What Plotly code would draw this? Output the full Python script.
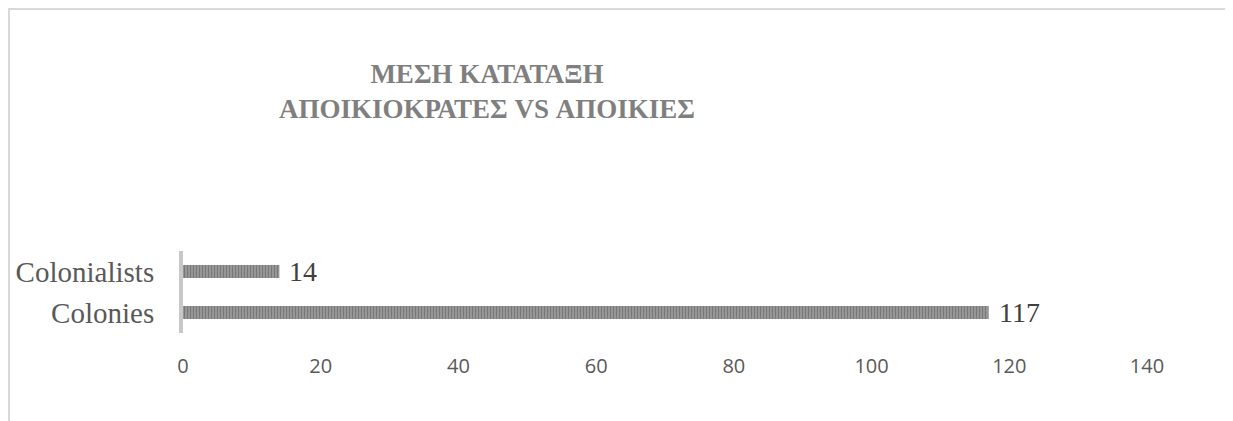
import plotly.graph_objects as go

categories = ["Colonies", "Colonialists"]
values = [117, 14]
tick_vals = [0, 20, 40, 60, 80, 100, 120, 140]
title_lines = ["ΜΕΣΗ ΚΑΤΑΤΑΞΗ", "ΑΠΟΙΚΙΟΚΡΑΤΕΣ VS ΑΠΟΙΚΙΕΣ"]

# page is offset by the 8px body margin
W, H = 1225, 413
L, R, T, B = 175, 86, 243, 88
PW, PH = W - L - R, H - T - B

fig = go.Figure(go.Bar(
    y=categories, x=values, orientation="h",
    marker=dict(color="#8a8a8a", line=dict(width=0),
                pattern=dict(shape="|", size=3, solidity=0.5,
                             fgcolor="#505050", bgcolor="#a0a0a0")),
    hoverinfo="x+y",
))

annotations = [
    dict(x=v, y=c, xref="x", yref="y", text=str(v), showarrow=False,
         xanchor="left", yanchor="middle", xshift=8,
         font=dict(family="Liberation Serif", size=28, color="#404040"))
    for c, v in zip(categories, values)
]

fig.update_layout(
    width=W, height=H,
    margin=dict(l=L, r=R, t=T, b=B, autoexpand=False),
    paper_bgcolor="white", plot_bgcolor="white",
    bargap=0.68,
    showlegend=False,
    annotations=annotations,
    title=dict(text="<br>".join(title_lines), x=479 / W, xref="container",
               xanchor="center", y=1 - 75 / H, yanchor="top", automargin=False,
               font=dict(family="Liberation Serif", size=27, color="#7f7f7f", weight="bold")),
    xaxis=dict(range=[0, 140], tickvals=tick_vals, showgrid=False, zeroline=False,
               showline=False, ticks="", automargin=False,
               tickfont=dict(family="Open Sans", size=20, color="#595959"),
               ticklabelstandoff=19),
    yaxis=dict(showgrid=False, zeroline=False, showline=True, linecolor="#c8c8c8", linewidth=4,
               ticks="", ticklabelstandoff=19, automargin=False,
               tickfont=dict(family="Liberation Serif", size=29, color="#595959")),
    shapes=[
        dict(type="line", xref="paper", yref="paper", x0=-L / PW, x1=(W - L) / PW,
             y0=(H - B - 1) / PH, y1=(H - B - 1) / PH,
             line=dict(color="#d9d9d9", width=2)),
        dict(type="line", xref="paper", yref="paper", x0=-(L - 1) / PW, x1=-(L - 1) / PW,
             y0=(H - B) / PH, y1=-B / PH,
             line=dict(color="#d9d9d9", width=2)),
    ],
)

fig.write_html("out.html")
